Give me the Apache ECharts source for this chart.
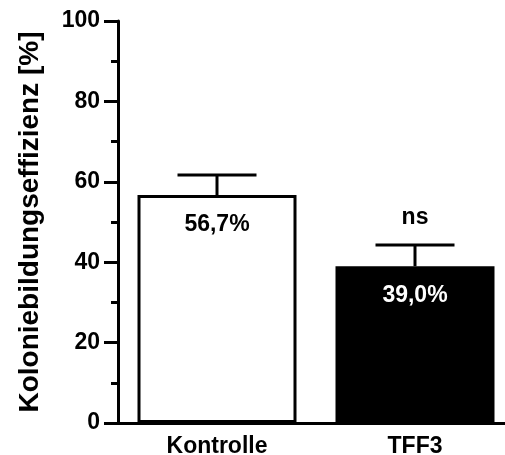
<!DOCTYPE html>
<html>
<head>
<meta charset="utf-8">
<script src="https://cdn.jsdelivr.net/npm/echarts@6/dist/echarts.min.js"></script>
<style>html,body{margin:0;padding:0;background:#fff;}#c{width:505px;height:455px;}</style>
</head>
<body>
<div id="c"></div>
<script>
var categories = ['Kontrolle', 'TFF3'];
var values = [56.7, 39.0];
var errors = [5.0, 5.3];
var significance = ['', 'ns'];
var yTicks = [0, 20, 40, 60, 80, 100];
var yTitle = 'Koloniebildungseffizienz [%]';

var FONT = '"Liberation Sans", Arial, sans-serif';
var chart = echarts.init(document.getElementById('c'));
chart.setOption({
  animation: false,
  backgroundColor: '#fff',
  grid: { left: 118, width: 396, top: 21, bottom: 32, containLabel: false, outerBoundsMode: 'none' },
  xAxis: {
    type: 'category',
    data: categories,
    axisLine: { lineStyle: { color: '#000', width: 3 } },
    axisTick: { show: false },
    axisLabel: { color: '#000', fontWeight: 'bold', fontSize: 23, fontFamily: FONT, margin: 12 }
  },
  yAxis: {
    type: 'value',
    min: yTicks[0], max: yTicks[yTicks.length - 1], interval: 20,
    name: yTitle,
    nameLocation: 'middle',
    nameGap: 74,
    nameTextStyle: { color: '#000', fontWeight: 'bold', fontSize: 28, fontFamily: FONT },
    axisLine: { show: true, lineStyle: { color: '#000', width: 3 } },
    axisTick: { show: true, length: 14, lineStyle: { color: '#000', width: 3 } },
    minorTick: { show: true, splitNumber: 2, length: 7, lineStyle: { color: '#000', width: 3 } },
    splitLine: { show: false },
    axisLabel: { color: '#000', fontWeight: 'bold', fontSize: 23, fontFamily: FONT, margin: 18 }
  },
  series: [
    {
      type: 'bar',
      barWidth: 159,
      data: values.map(function (v, i) {
        return {
          value: v,
          itemStyle: i === 0 ? { color: '#fff', borderColor: '#000', borderWidth: 3 } : { color: '#000', borderColor: '#000', borderWidth: 3 },
          label: { color: i === 0 ? '#000' : '#fff' }
        };
      }),
      label: {
        show: true, position: 'insideTop', distance: 18,
        fontWeight: 'bold', fontSize: 23, fontFamily: FONT,
        formatter: function (p) { return p.value.toFixed(1).replace('.', ',') + '%'; }
      },
      z: 2
    },
    {
      type: 'custom',
      z: 3,
      data: values.map(function (v, i) { return [i, v, v + errors[i]]; }),
      renderItem: function (params, api) {
        var base = api.coord([api.value(0), api.value(1)]);
        var top = api.coord([api.value(0), api.value(2)]);
        var half = 39.5;
        var children = [
          { type: 'line', shape: { x1: base[0], y1: base[1], x2: top[0], y2: top[1] }, style: { stroke: '#000', lineWidth: 3 } },
          { type: 'line', shape: { x1: top[0] - half, y1: top[1], x2: top[0] + half, y2: top[1] }, style: { stroke: '#000', lineWidth: 3 } }
        ];
        var sig = significance[params.dataIndex];
        if (sig) {
          children.push({ type: 'text', style: { text: sig, x: top[0], y: top[1] - 27, align: 'center', verticalAlign: 'middle', fill: '#000', font: 'bold 23px ' + FONT } });
        }
        return { type: 'group', children: children };
      }
    }
  ]
});
</script>
</body>
</html>
